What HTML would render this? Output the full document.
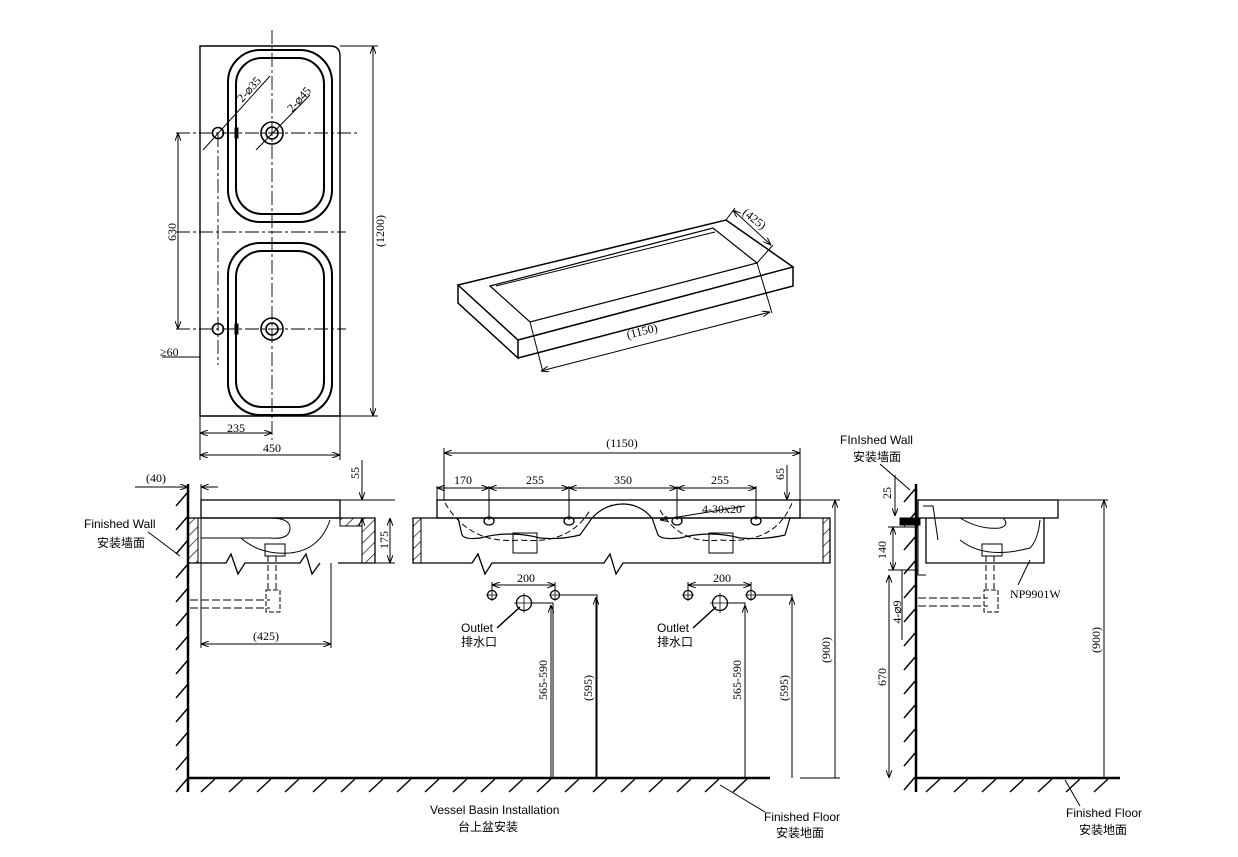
<!DOCTYPE html>
<html><head><meta charset="utf-8"><style>
html,body{margin:0;padding:0;background:#fff}
svg{display:block}
text{font-family:"Liberation Serif","Noto Sans CJK SC",serif;font-size:12px;fill:#000}
.m{text-anchor:middle}
.s{font-family:"Liberation Sans","Noto Sans CJK SC",sans-serif;font-size:12px}
</style></head><body>
<svg width="1238" height="857" viewBox="0 0 1238 857" xmlns="http://www.w3.org/2000/svg">
<defs>
<marker id="a" markerWidth="8" markerHeight="6" refX="8" refY="3" orient="auto-start-reverse"><path d="M0,0 L8,3 L0,6" fill="none" stroke="#000" stroke-width="1"/></marker>
<pattern id="h" width="8" height="8" patternUnits="userSpaceOnUse" patternTransform="rotate(45)"><line x1="0" y1="0" x2="0" y2="8" stroke="#000" stroke-width="1.3"/></pattern>
</defs>
<g fill="none" stroke="#000" stroke-width="1">
<path d="M200,46 H330 Q340,46 340,56 V416 H200 Z" stroke-width="1.4"/>
<rect x="228" y="50" width="104" height="172" rx="32" stroke-width="2"/>
<rect x="236" y="58" width="88" height="156" rx="26" stroke-width="2"/>
<rect x="228" y="243" width="104" height="172" rx="32" stroke-width="2"/>
<rect x="236" y="251" width="88" height="156" rx="26" stroke-width="2"/>
<circle cx="272" cy="133" r="11" stroke-width="1.6"/><circle cx="272" cy="133" r="6" stroke-width="1.6"/>
<circle cx="272" cy="329" r="11" stroke-width="1.6"/><circle cx="272" cy="329" r="6" stroke-width="1.6"/>
<circle cx="218" cy="133" r="5.5" stroke-width="1.6"/><circle cx="218" cy="329" r="5.5" stroke-width="1.6"/>
<rect x="235" y="128" width="3" height="10" fill="#000"/><rect x="235" y="324" width="3" height="10" fill="#000"/>
<g stroke-dasharray="14,3,3,3" stroke-width="0.9">
<line x1="176" y1="133" x2="357" y2="133"/><line x1="176" y1="232" x2="346" y2="232"/><line x1="176" y1="329" x2="346" y2="329"/>
<line x1="272" y1="30" x2="272" y2="440"/><line x1="218" y1="133" x2="218" y2="365"/>
</g>
<line x1="203" y1="150" x2="270" y2="76"/><line x1="256" y1="150" x2="310" y2="95"/>
<line x1="178" y1="133" x2="178" y2="329" marker-start="url(#a)" marker-end="url(#a)"/>
<line x1="340" y1="46" x2="378" y2="46"/><line x1="340" y1="416" x2="378" y2="416"/>
<line x1="373" y1="46" x2="373" y2="416" marker-start="url(#a)" marker-end="url(#a)"/>
<line x1="200" y1="416" x2="200" y2="460"/><line x1="340" y1="416" x2="340" y2="460"/>
<line x1="200" y1="433" x2="272" y2="433" marker-start="url(#a)" marker-end="url(#a)"/>
<line x1="200" y1="455" x2="340" y2="455" marker-start="url(#a)" marker-end="url(#a)"/>
<line x1="162" y1="357" x2="200" y2="357"/>

<path d="M458,285 L726,220 L793,267 L518,340 Z" stroke-width="1.5"/>
<path d="M458,285 V303 L518,358 V340 M518,358 L793,286 V267" stroke-width="1.5"/>
<path d="M490,286 L713,228 L757,263 L530,322 Z" stroke-width="1.2"/>
<path d="M496,286 L715,232" stroke-width="1"/>
<line x1="530" y1="322" x2="543" y2="372"/><line x1="757" y1="263" x2="772" y2="313"/>
<line x1="541" y1="371" x2="770" y2="312" marker-start="url(#a)" marker-end="url(#a)"/>
<line x1="726" y1="220" x2="735" y2="208"/><line x1="757" y1="263" x2="773" y2="245"/>
<line x1="733" y1="210" x2="771" y2="245" marker-start="url(#a)" marker-end="url(#a)"/>

<g stroke-width="1.4">
<path d="M188,492 l-12,14 M188,516 l-12,14 M188,540 l-12,14 M188,564 l-12,14 M188,588 l-12,14 M188,612 l-12,14 M188,636 l-12,14 M188,660 l-12,14 M188,684 l-12,14 M188,708 l-12,14 M188,732 l-12,14 M188,756 l-12,14 M188,778 l-12,14"/>
<path d="M916,488 l-12,14 M916,512 l-12,14 M916,536 l-12,14 M916,560 l-12,14 M916,584 l-12,14 M916,608 l-12,14 M916,632 l-12,14 M916,656 l-12,14 M916,680 l-12,14 M916,704 l-12,14 M916,728 l-12,14 M916,752 l-12,14 M916,776 l-12,14"/>
<path d="M215,779 l-14,13 M243,779 l-14,13 M271,779 l-14,13 M299,779 l-14,13 M327,779 l-14,13 M355,779 l-14,13 M383,779 l-14,13 M411,779 l-14,13 M439,779 l-14,13 M467,779 l-14,13 M495,779 l-14,13 M523,779 l-14,13 M551,779 l-14,13 M579,779 l-14,13 M607,779 l-14,13 M635,779 l-14,13 M663,779 l-14,13 M691,779 l-14,13 M719,779 l-14,13 M747,779 l-14,13"/>
<path d="M940,779 l-14,13 M968,779 l-14,13 M996,779 l-14,13 M1024,779 l-14,13 M1052,779 l-14,13 M1080,779 l-14,13 M1108,779 l-14,13"/>
</g>

<line x1="188" y1="484" x2="188" y2="792" stroke-width="2.5"/>
<rect x="201" y="500" width="139" height="18" stroke-width="1.3"/>
<path d="M188,518 H375 V563 H338 M320,563 L312,574 L306,554 L300,563 H245 L238,574 L231,554 L226,563 H188" stroke-width="1.3"/>
<rect x="188" y="518" width="10" height="45" fill="url(#h)"/>
<rect x="362" y="518" width="13" height="45" fill="url(#h)"/>
<rect x="340" y="518" width="22" height="8" fill="url(#h)"/>
<path d="M201,518 V538 H270 Q290,540 290,528 Q290,518 270,518" />
<path d="M241,538 Q260,555 290,553 Q320,550 330,520" />
<rect x="265" y="544" width="20" height="12"/>
<path d="M268,556 V590 M276,556 V590" stroke-dasharray="6,3"/>
<rect x="266" y="590" width="14" height="22" stroke-dasharray="5,2"/>
<path d="M190,600 H270 M190,608 H270" stroke-dasharray="8,3"/>
<line x1="201" y1="518" x2="201" y2="648"/><line x1="331" y1="563" x2="331" y2="648"/>
<line x1="201" y1="644" x2="331" y2="644" marker-start="url(#a)" marker-end="url(#a)"/>
<line x1="135" y1="487" x2="188" y2="487" marker-end="url(#a)"/><line x1="201" y1="487" x2="218" y2="487" marker-start="url(#a)"/>
<line x1="201" y1="484" x2="201" y2="500"/>
<line x1="362" y1="460" x2="362" y2="500" marker-end="url(#a)"/><line x1="362" y1="518" x2="362" y2="530" marker-start="url(#a)"/>
<line x1="340" y1="500" x2="395" y2="500"/><line x1="375" y1="563" x2="395" y2="563"/>
<line x1="390" y1="518" x2="390" y2="563" marker-start="url(#a)" marker-end="url(#a)"/>
<line x1="148" y1="532" x2="180" y2="556"/>

<rect x="437" y="500" width="363" height="18" stroke-width="1.3"/>
<path d="M413,518 H830 V563 H623 L616,574 L610,554 L604,563 H492 L485,574 L478,554 L472,563 H413 Z" stroke-width="1.3"/>
<rect x="413" y="518" width="8" height="45" fill="url(#h)"/><rect x="823" y="518" width="7" height="45" fill="url(#h)"/>
<path d="M458,518 L462,535 Q465,540 480,538 Q510,530 540,538 Q560,540 580,535 L592,518 Q605,504 623,504 Q640,504 652,518 L658,535 Q662,540 680,538 Q710,530 740,538 Q765,540 785,535 L790,518" stroke-width="1.2"/>
<path d="M445,503 Q470,545 520,540 Q570,545 590,510 M660,510 Q680,545 720,540 Q775,545 792,503" stroke-dasharray="6,3"/>
<rect x="513" y="533" width="24" height="20"/><rect x="709" y="533" width="24" height="20"/>
<g stroke-width="1.3"><ellipse cx="489" cy="521" rx="5" ry="4"/><ellipse cx="569" cy="521" rx="5" ry="4"/><ellipse cx="677" cy="521" rx="5" ry="4"/><ellipse cx="756" cy="521" rx="5" ry="4"/></g>
<line x1="444" y1="448" x2="444" y2="500"/><line x1="800" y1="448" x2="800" y2="500"/>
<line x1="444" y1="453" x2="800" y2="453" marker-start="url(#a)" marker-end="url(#a)"/>
<line x1="437" y1="486" x2="437" y2="518"/><line x1="489" y1="486" x2="489" y2="520"/><line x1="569" y1="486" x2="569" y2="520"/><line x1="677" y1="486" x2="677" y2="520"/><line x1="756" y1="486" x2="756" y2="520"/>
<line x1="437" y1="488" x2="489" y2="488" marker-start="url(#a)" marker-end="url(#a)"/>
<line x1="489" y1="488" x2="569" y2="488" marker-start="url(#a)" marker-end="url(#a)"/>
<line x1="569" y1="488" x2="677" y2="488" marker-start="url(#a)" marker-end="url(#a)"/>
<line x1="677" y1="488" x2="756" y2="488" marker-start="url(#a)" marker-end="url(#a)"/>
<line x1="787" y1="465" x2="787" y2="500" marker-end="url(#a)"/>
<line x1="800" y1="500" x2="840" y2="500"/>
<line x1="745" y1="506" x2="660" y2="520" marker-end="url(#a)"/>
<g stroke-width="1.3"><circle cx="492" cy="595" r="4.5"/><circle cx="555" cy="595" r="4.5"/><circle cx="524" cy="603" r="7.5"/>
<circle cx="688" cy="595" r="4.5"/><circle cx="751" cy="595" r="4.5"/><circle cx="720" cy="603" r="7.5"/></g>
<path d="M486,595 H498 M492,589 V601 M549,595 H561 M555,589 V601 M514,603 H534 M524,593 V613 M682,595 H694 M688,589 V601 M745,595 H757 M751,589 V601 M710,603 H730 M720,593 V613" stroke-width="0.8"/>
<line x1="492" y1="585" x2="555" y2="585" marker-start="url(#a)" marker-end="url(#a)"/>
<line x1="688" y1="585" x2="751" y2="585" marker-start="url(#a)" marker-end="url(#a)"/>
<line x1="492" y1="582" x2="492" y2="590"/><line x1="555" y1="582" x2="555" y2="590"/><line x1="688" y1="582" x2="688" y2="590"/><line x1="751" y1="582" x2="751" y2="590"/>
<line x1="520" y1="607" x2="497" y2="628" stroke-width="1.5"/><line x1="716" y1="607" x2="693" y2="628" stroke-width="1.5"/>
<path d="M531,603 H553 V778 M560,595 H597 V778 M727,603 H745 V778 M756,595 H792 V778"/>
<line x1="551" y1="778" x2="551" y2="605" marker-end="url(#a)"/><line x1="596" y1="778" x2="596" y2="597" marker-end="url(#a)"/>
<line x1="745" y1="778" x2="745" y2="605" marker-end="url(#a)"/><line x1="792" y1="778" x2="792" y2="597" marker-end="url(#a)"/>
<line x1="835" y1="778" x2="835" y2="500" marker-end="url(#a)"/>
<line x1="800" y1="778" x2="840" y2="778"/>
<line x1="188" y1="778" x2="770" y2="778" stroke-width="2.5"/>
<line x1="720" y1="785" x2="765" y2="812"/>

<line x1="916" y1="484" x2="916" y2="792" stroke-width="2.5"/>
<line x1="916" y1="778" x2="1120" y2="778" stroke-width="2.5"/>
<rect x="918" y="500" width="140" height="18" stroke-width="1.3"/>
<path d="M1044,518 V563 H926 V518" stroke-width="1.3"/>
<path d="M918,518 V575 H926 M923,506 L933,506 L938,540" />
<path d="M960,518 Q980,530 1000,528 Q1010,525 1003,518 M960,540 Q985,560 1030,548 Q1038,540 1040,520"/>
<rect x="982" y="544" width="20" height="12"/>
<path d="M986,556 V590 M994,556 V590" stroke-dasharray="6,3"/>
<rect x="984" y="590" width="14" height="22" stroke-dasharray="5,2"/>
<path d="M918,598 H988 M918,606 H988" stroke-dasharray="8,3"/>
<rect x="900" y="518" width="20" height="7" fill="#000"/>
<line x1="888" y1="527" x2="918" y2="527"/><line x1="888" y1="570" x2="918" y2="570"/>
<line x1="895" y1="475" x2="895" y2="516" marker-end="url(#a)"/>
<line x1="893" y1="527" x2="893" y2="570" marker-start="url(#a)" marker-end="url(#a)"/>
<line x1="902" y1="570" x2="902" y2="640"/>
<line x1="889" y1="575" x2="889" y2="778" marker-start="url(#a)" marker-end="url(#a)"/>
<line x1="1058" y1="500" x2="1108" y2="500"/>
<line x1="1104" y1="778" x2="1104" y2="500" marker-end="url(#a)"/>
<line x1="1030" y1="560" x2="1018" y2="585"/>
<line x1="880" y1="464" x2="910" y2="490"/>
<line x1="1065" y1="780" x2="1080" y2="806"/>
</g>
<g>
<text class="m" transform="translate(252,92) rotate(-48)">2-⌀35</text>
<text class="m" transform="translate(302,102) rotate(-48)">2-⌀45</text>
<text class="m" transform="translate(176,232) rotate(-90)">630</text>
<text class="m" transform="translate(384,231) rotate(-90)">(1200)</text>
<text x="160" y="356">≥60</text>
<text class="m" x="236" y="432">235</text>
<text class="m" x="272" y="452">450</text>
<text class="m" transform="translate(643,335) rotate(-14)">(1150)</text>
<text class="m" transform="translate(752,222) rotate(38)">(425)</text>
<text x="146" y="482">(40)</text>
<text class="m" transform="translate(359,473) rotate(-90)">55</text>
<text class="m" transform="translate(388,540) rotate(-90)">175</text>
<text class="m" x="266" y="640">(425)</text>
<text class="m" x="622" y="447">(1150)</text>
<text class="m" x="463" y="484">170</text>
<text class="m" x="535" y="484">255</text>
<text class="m" x="623" y="484">350</text>
<text class="m" x="720" y="484">255</text>
<text class="m" transform="translate(784,474) rotate(-90)">65</text>
<text x="702" y="513">4-30x20</text>
<text class="m" x="526" y="582">200</text>
<text class="m" x="722" y="582">200</text>
<text class="m" transform="translate(547,680) rotate(-90)">565-590</text>
<text class="m" transform="translate(592,688) rotate(-90)">(595)</text>
<text class="m" transform="translate(741,680) rotate(-90)">565-590</text>
<text class="m" transform="translate(788,688) rotate(-90)">(595)</text>
<text class="m" transform="translate(830,650) rotate(-90)">(900)</text>
<text class="m" transform="translate(891,493) rotate(-90)">25</text>
<text class="m" transform="translate(886,550) rotate(-90)">140</text>
<text class="m" transform="translate(901,612) rotate(-90)">4-⌀9</text>
<text class="m" transform="translate(886,677) rotate(-90)">670</text>
<text class="m" transform="translate(1100,640) rotate(-90)">(900)</text>
<text x="1010" y="598">NP9901W</text>
<text class="s" x="84" y="528">Finished Wall</text>
<text class="s" x="97" y="547">安装墙面</text>
<text class="s" x="461" y="632">Outlet</text>
<text class="s" x="461" y="646">排水口</text>
<text class="s" x="657" y="632">Outlet</text>
<text class="s" x="657" y="646">排水口</text>
<text class="s" x="840" y="444">FInIshed Wall</text>
<text class="s" x="853" y="461">安装墙面</text>
<text class="s" x="430" y="814">Vessel Basin Installation</text>
<text class="s" x="458" y="831">台上盆安装</text>
<text class="s" x="764" y="821">Finished Floor</text>
<text class="s" x="776" y="837">安装地面</text>
<text class="s" x="1066" y="817">Finished Floor</text>
<text class="s" x="1079" y="834">安装地面</text>
</g>
</svg>
</body></html>
